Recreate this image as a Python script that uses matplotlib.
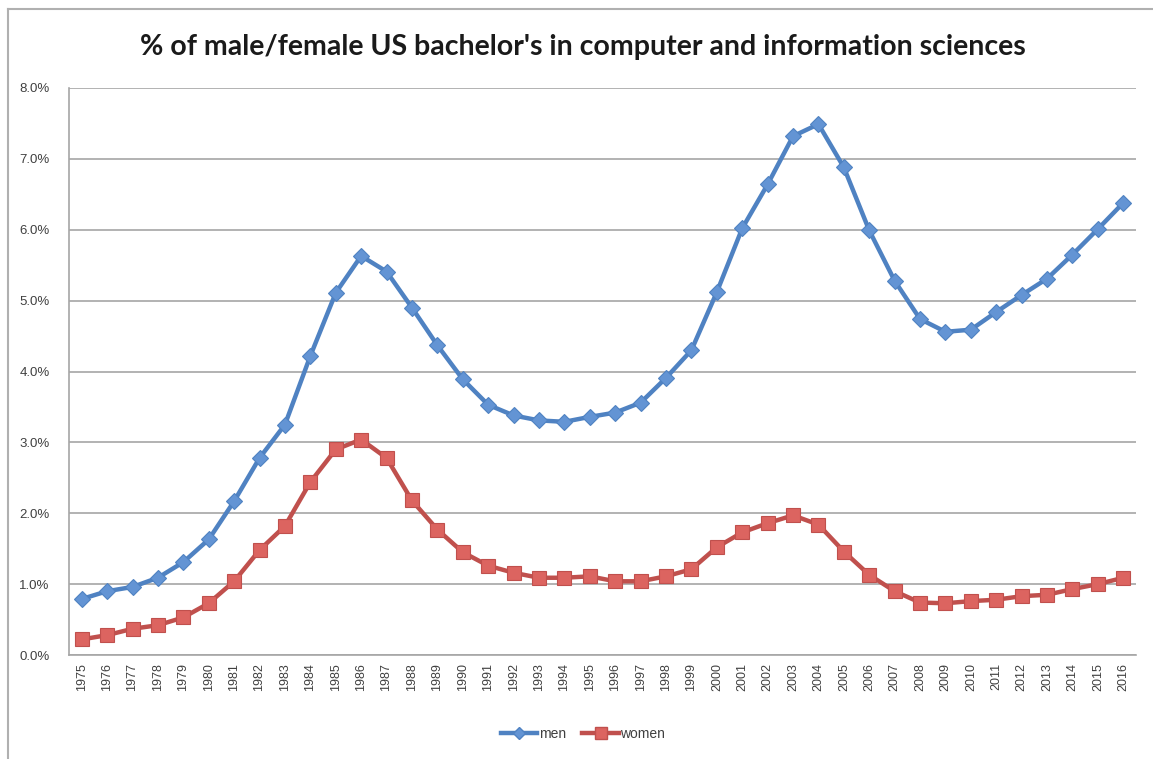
import matplotlib
matplotlib.use("Agg")
import matplotlib.pyplot as plt
from matplotlib.ticker import FuncFormatter
from matplotlib.lines import Line2D

# data (percent of bachelor's degrees)
years = list(range(1975, 2017))
men = [0.79, 0.90, 0.96, 1.09, 1.31, 1.63, 2.17, 2.78, 3.25, 4.22,
       5.11, 5.63, 5.41, 4.90, 4.37, 3.89, 3.53, 3.38, 3.31, 3.29,
       3.36, 3.42, 3.56, 3.91, 4.30, 5.12, 6.02, 6.64, 7.32, 7.49,
       6.88, 5.99, 5.28, 4.74, 4.56, 4.59, 4.84, 5.08, 5.31, 5.65,
       6.01, 6.38]
women = [0.22, 0.28, 0.37, 0.42, 0.53, 0.73, 1.04, 1.48, 1.82, 2.44,
         2.90, 3.04, 2.78, 2.18, 1.77, 1.45, 1.26, 1.16, 1.09, 1.09,
         1.11, 1.04, 1.04, 1.11, 1.21, 1.52, 1.73, 1.86, 1.97, 1.84,
         1.46, 1.13, 0.90, 0.74, 0.73, 0.76, 0.78, 0.83, 0.85, 0.93,
         1.00, 1.09]
yticks = [0, 1, 2, 3, 4, 5, 6, 7, 8]

blue = "#4f82c2"
red = "#c0504d"
grid_col = "#a6a6a6"

plt.rcParams['font.family'] = ['Liberation Sans', 'DejaVu Sans']

fig = plt.figure(figsize=(11.53, 7.59), dpi=100)
ax = fig.add_axes([69 / 1153, 1 - 655 / 759, (1136 - 69) / 1153, (655 - 88) / 759])

x = list(range(len(years)))
ax.plot(x, men, color=blue, lw=3.2, marker="D", ms=8, mfc="#6394d4",
        mec=blue, mew=0.8, zorder=3)
ax.plot(x, women, color=red, lw=3.2, marker="s", ms=10, mfc="#dc6460",
        mec=red, mew=0.8, zorder=3)

ax.set_xlim(-0.5, len(years) - 0.5)
ax.set_ylim(0, 8)
ax.set_yticks(yticks)
ax.yaxis.set_major_formatter(FuncFormatter(lambda v, p: f"{v:.1f}%"))
ax.set_xticks(x)
ax.set_xticklabels([str(y) for y in years], rotation=90, fontsize=9, color="#404040")
ax.tick_params(axis="y", labelsize=9.5, labelcolor="#404040", length=0, pad=14)
ax.tick_params(axis="x", length=0, pad=6)
ax.grid(axis="y", color=grid_col, lw=1.2)
ax.set_axisbelow(True)
for s in ["top", "right"]:
    ax.spines[s].set_visible(False)
for s in ["left", "bottom"]:
    ax.spines[s].set_color(grid_col)
    ax.spines[s].set_linewidth(1.2)

fig.text(583 / 1153, 1 - 47 / 759,
         "% of male/female US bachelor's in computer and information sciences",
         ha="center", va="center", fontsize=20.5, fontweight="bold",
         family=["Lato", "DejaVu Sans"], color="#1a1a1a")

# outer chart frame (top and left edges visible)
fig.add_artist(Line2D([8 / 1153, 8 / 1153], [0, 1 - 9 / 759],
                      transform=fig.transFigure, color="#b0b0b0", lw=1.5))
fig.add_artist(Line2D([8 / 1153, 1], [1 - 9 / 759, 1 - 9 / 759],
                      transform=fig.transFigure, color="#b0b0b0", lw=1.5))

handles = [
    Line2D([], [], color=blue, lw=3.2, marker="D", ms=6, mfc="#6394d4", mec=blue),
    Line2D([], [], color=red, lw=3.2, marker="s", ms=8, mfc="#dc6460", mec=red),
]
fig.legend(handles, ["men", "women"], loc="center", ncol=2,
           bbox_to_anchor=(583 / 1153, 1 - 734 / 759), frameon=False,
           fontsize=10, handlelength=2.6, handletextpad=0.1, columnspacing=1.2,
           labelcolor="#404040")

fig.savefig("out.png", dpi=100)
